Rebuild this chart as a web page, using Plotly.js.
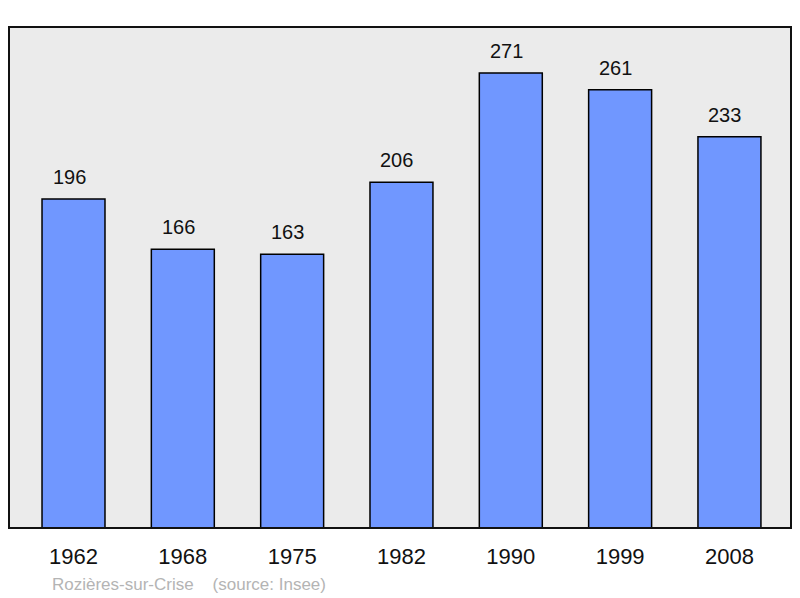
<!DOCTYPE html>
<html><head><meta charset="utf-8">
<script src="https://cdn.plot.ly/plotly-3.0.1.min.js"></script>
<style>body{margin:0;background:#fff}#c{width:800px;height:598px}</style>
</head><body><div id="c"></div>
<script>
var years = ["1962","1968","1975","1982","1990","1999","2008"];
var population = [196,166,163,206,271,261,233];
var sourceText = "Rozières-sur-Crise&nbsp;&nbsp;&nbsp;&nbsp;(source: Insee)";

var FONT = 'Liberation Sans, Arial, sans-serif';
var idx = years.map(function(_, i){ return i; });
var trace = {
  type: 'bar', x: idx, y: population, width: 0.576,
  marker: {color: '#7097ff', line: {color: '#000', width: 1.5}},
  hoverinfo: 'none'
};
var ann = population.map(function(v, i){
  return {x: i, y: v, xref: 'x', yref: 'y', text: String(v), showarrow: false,
    yanchor: 'bottom', yshift: 9, xshift: -4.5, font: {family: FONT, size: 20, color: '#111'}};
});
ann.push({x: (50-9)/782, y: (528-584)/501, xref: 'paper', yref: 'paper', xanchor: 'left', yanchor: 'middle',
  text: sourceText, showarrow: false,
  font: {family: FONT, size: 17, color: '#b4b4b4'}});

var layout = {
  width: 800, height: 598,
  margin: {l: 9, r: 9, t: 27, b: 70},
  paper_bgcolor: '#fff', plot_bgcolor: '#ebebeb',
  showlegend: false,
  xaxis: {range: [-0.59, 6.563], tickvals: idx, ticktext: years, showgrid: false, zeroline: false,
    ticks: '', ticklen: 0, ticklabelstandoff: 13, tickfont: {family: FONT, size: 22, color: '#111'}},
  yaxis: {range: [0, 298.4], showgrid: false, zeroline: false, showticklabels: false, ticks: ''},
  annotations: ann,
  shapes: [{type: 'rect', xref: 'paper', yref: 'paper', x0: 0, x1: 1, y0: 0, y1: 1,
    line: {color: '#111', width: 2}}]
};
Plotly.newPlot('c', [trace], layout, {staticPlot: true});
</script></body></html>
